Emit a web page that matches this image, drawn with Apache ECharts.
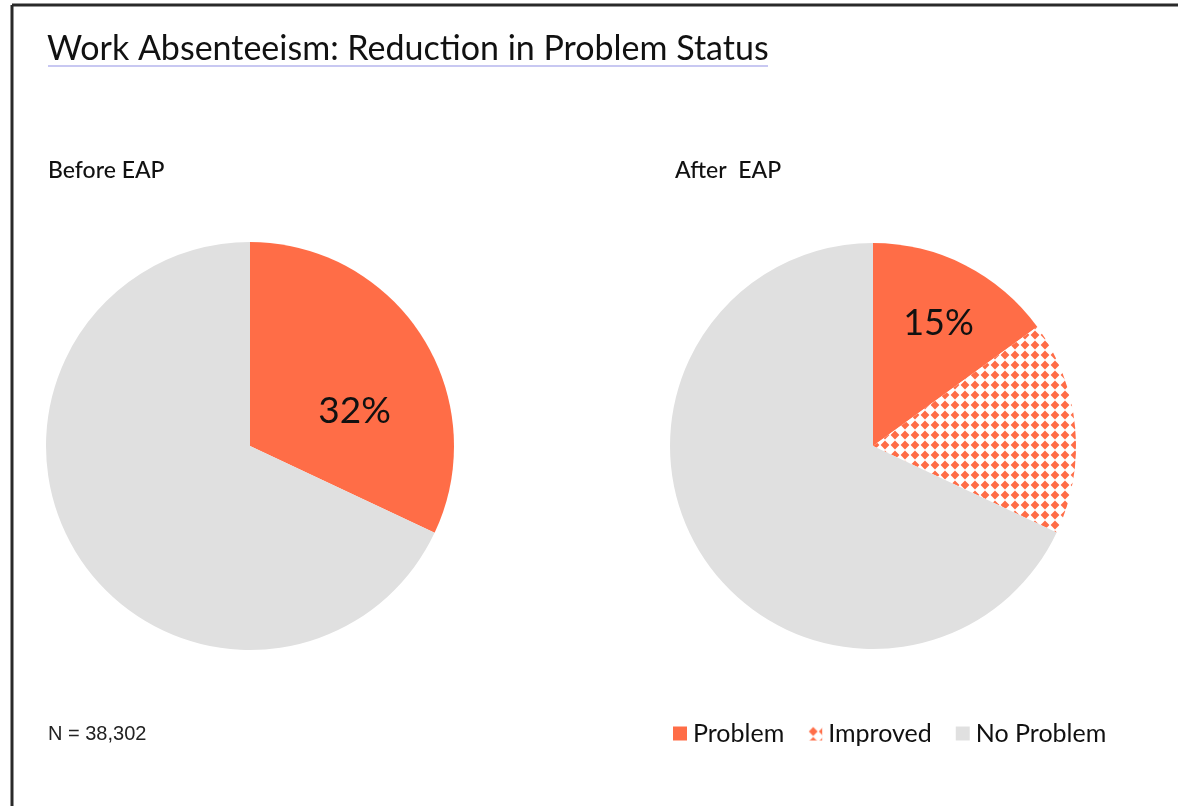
<!DOCTYPE html>
<html>
<head>
<meta charset="utf-8">
<title>Work Absenteeism</title>
<script src="https://cdn.jsdelivr.net/npm/echarts@6/dist/echarts.min.js"></script>
<style>
  html, body { margin: 0; padding: 0; background: #fff; }
  #chart { width: 1178px; height: 806px; }
</style>
</head>
<body>
<div id="chart"></div>
<script>
// data
const categories = ["Problem", "Improved", "No Problem"];
const beforeValues = [32, 0, 68];   // Before EAP
const afterValues = [15, 17, 68];   // After EAP
const sampleSize = "38,302";

const ORANGE = "#FF6D47";
const GREY = "#E0E0E0";
const FONT = "Lato, 'Open Sans', sans-serif";

// checkered diamond pattern for "Improved"
function makePattern() {
  const c = document.createElement("canvas");
  c.width = 10;
  c.height = 10;
  const ctx = c.getContext("2d");
  ctx.fillStyle = "#fff";
  ctx.fillRect(0, 0, 10, 10);
  ctx.fillStyle = ORANGE;
  ctx.beginPath();
  ctx.moveTo(5, 0.6);
  ctx.lineTo(9.4, 5);
  ctx.lineTo(5, 9.4);
  ctx.lineTo(0.6, 5);
  ctx.closePath();
  ctx.fill();
  return { image: c, repeat: "repeat" };
}
const pattern = makePattern();
const colors = [ORANGE, pattern, GREY];

function buildData(values, labelIndex, offset) {
  return values.map((v, i) => {
    if (v === 0) return null;
    return {
      name: categories[i],
      value: v,
      itemStyle: { color: colors[i] },
      label: i === labelIndex ? { show: true, offset: offset } : { show: false }
    };
  }).filter(d => d);
}

const chart = echarts.init(document.getElementById("chart"));

const options = {
  animation: false,
  title: [
    {
      text: "Work Absenteeism: Reduction in Problem Status",
      left: 42, top: 27,
      textStyle: { fontFamily: FONT, fontSize: 34, fontWeight: "normal", color: "#111" }
    },
    {
      text: "Before EAP",
      left: 43, top: 154,
      textStyle: { fontFamily: FONT, fontSize: 23, fontWeight: 500, color: "#111" }
    },
    {
      text: "After  EAP",
      left: 670, top: 154,
      textStyle: { fontFamily: FONT, fontSize: 23, fontWeight: 500, color: "#111" }
    },
    {
      text: "N = " + sampleSize,
      left: 43, top: 719,
      textStyle: { fontFamily: "'Liberation Sans', Arial, sans-serif", fontSize: 20, fontWeight: "normal", color: "#222" }
    }
  ],
  legend: {
    data: categories,
    left: 668, top: 716,
    icon: "rect",
    itemWidth: 14, itemHeight: 14,
    itemGap: 24,
    textStyle: { fontFamily: FONT, fontSize: 25, color: "#111", padding: [0, 0, 0, 1] }
  },
  graphic: [
    { type: "line", shape: { x1: 12, y1: 5, x2: 1178, y2: 5 }, style: { stroke: "#2a2a2a", lineWidth: 3 } },
    { type: "line", shape: { x1: 12, y1: 5, x2: 12, y2: 806 }, style: { stroke: "#2a2a2a", lineWidth: 3 } },
    { type: "line", shape: { x1: 48, y1: 66, x2: 768, y2: 66 }, style: { stroke: "#C8C8F2", lineWidth: 2 } }
  ],
  series: [
    {
      name: "Before EAP",
      type: "pie",
      center: [250, 446],
      radius: [0, 204],
      startAngle: 90,
      clockwise: true,
      silent: true,
      label: { position: "inside", formatter: "{c}%", fontFamily: FONT, fontSize: 37, color: "#111" },
      labelLine: { show: false },
      data: buildData(beforeValues, 0, [16, 21])
    },
    {
      name: "After EAP",
      type: "pie",
      center: [873, 446],
      radius: [0, 203],
      startAngle: 90,
      clockwise: true,
      silent: true,
      label: { position: "inside", formatter: "{c}%", fontFamily: FONT, fontSize: 36, color: "#111" },
      labelLine: { show: false },
      data: buildData(afterValues, 0, [18, -29])
    }
  ]
};

chart.setOption(options);
</script>
</body>
</html>
